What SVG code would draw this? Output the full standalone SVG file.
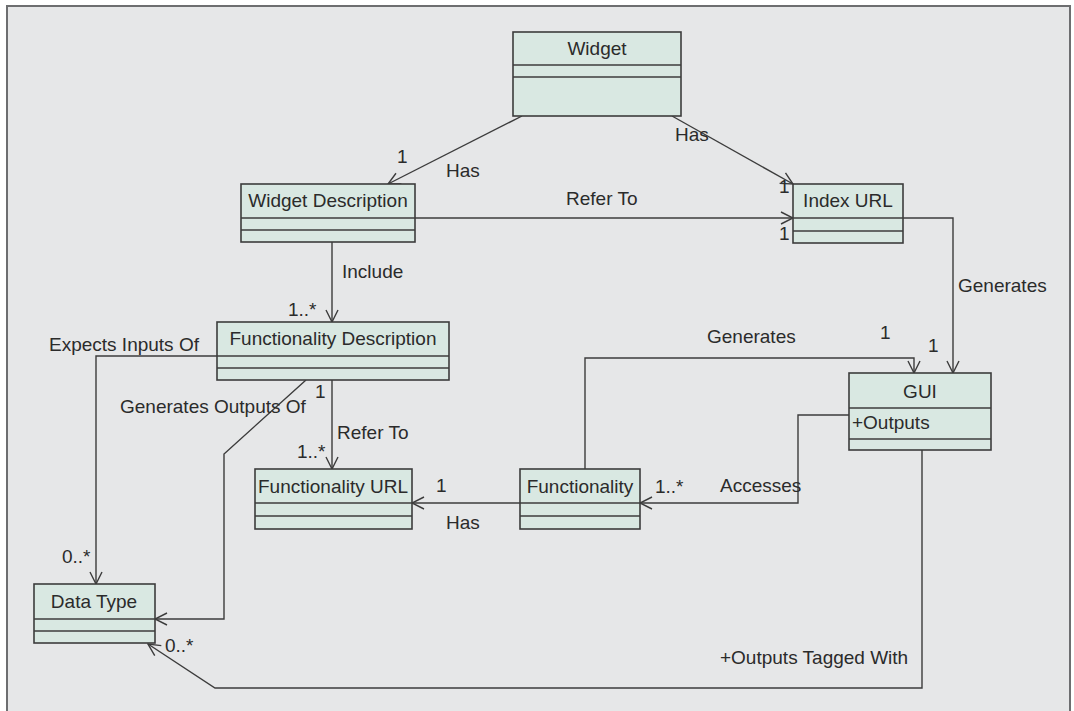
<svg xmlns="http://www.w3.org/2000/svg" width="1074" height="711" viewBox="0 0 1074 711">
<style>
.bg{fill:#e6e7e8;stroke:none}
.frame{fill:none;stroke:#6d6e70;stroke-width:2}
.box{fill:#d9e8e2;stroke:#3c3c3c;stroke-width:1.6}
.sep{stroke:#3c3c3c;stroke-width:1.6}
.ln{fill:none;stroke:#3c3c3c;stroke-width:1.4}
text{font-family:"Liberation Sans",Arial,sans-serif;font-size:19px;fill:#2b2b2b}
.c{text-anchor:middle}
</style>
<defs>
<marker id="arr" viewBox="0 0 14 14" refX="13" refY="7" markerWidth="14" markerHeight="14" markerUnits="userSpaceOnUse" orient="auto">
<path d="M1,1 L13,7 L1,13" fill="none" stroke="#3c3c3c" stroke-width="1.4"/>
</marker>
</defs>
<rect class="bg" x="7" y="6" width="1063" height="710"/>
<path class="frame" d="M7,711 V6 H1070 V711"/>

<g id="connectors">
<line class="ln" x1="522" y1="116" x2="388" y2="184" marker-end="url(#arr)"/>
<line class="ln" x1="672" y1="116" x2="793" y2="184" marker-end="url(#arr)"/>
<line class="ln" x1="415" y1="218" x2="793" y2="218" marker-end="url(#arr)"/>
<polyline class="ln" points="903,218 953,218 953,373" marker-end="url(#arr)"/>
<line class="ln" x1="332" y1="242" x2="332" y2="322" marker-end="url(#arr)"/>
<polyline class="ln" points="217,356 96,356 96,584" marker-end="url(#arr)"/>
<polyline class="ln" points="306,380 224,454 224,619 155,619" marker-end="url(#arr)"/>
<line class="ln" x1="332" y1="380" x2="332" y2="469" marker-end="url(#arr)"/>
<line class="ln" x1="520" y1="503" x2="412" y2="503" marker-end="url(#arr)"/>
<polyline class="ln" points="585,469 585,358 914,358 914,373" marker-end="url(#arr)"/>
<polyline class="ln" points="849,415 798,415 798,503 640,503" marker-end="url(#arr)"/>
<polyline class="ln" points="922,450 922,688 215,688 148,644" marker-end="url(#arr)"/>
</g>

<g id="labels">
<text x="397" y="163">1</text>
<text x="446" y="177">Has</text>
<text x="675" y="141">Has</text>
<text x="566" y="205">Refer To</text>
<text x="779" y="193">1</text>
<text x="779" y="240">1</text>
<text x="342" y="278">Include</text>
<text x="288" y="316">1..*</text>
<text x="958" y="292">Generates</text>
<text x="49" y="351">Expects Inputs Of</text>
<text x="120" y="413">Generates Outputs Of</text>
<text x="315" y="398">1</text>
<text x="337" y="439">Refer To</text>
<text x="297" y="458">1..*</text>
<text x="436" y="492">1</text>
<text x="446" y="529">Has</text>
<text x="707" y="343">Generates</text>
<text x="880" y="339">1</text>
<text x="928" y="352">1</text>
<text x="655" y="493">1..*</text>
<text x="720" y="492">Accesses</text>
<text x="62" y="563">0..*</text>
<text x="165" y="652">0..*</text>
<text x="720" y="664">+Outputs Tagged With</text>
</g>

<g id="widget">
<rect class="box" x="513" y="32" width="168" height="84"/>
<line class="sep" x1="513" y1="65" x2="681" y2="65"/>
<line class="sep" x1="513" y1="77" x2="681" y2="77"/>
<text class="c" x="597" y="55">Widget</text>
</g>

<g id="widget-description">
<rect class="box" x="241" y="184" width="174" height="58"/>
<line class="sep" x1="241" y1="218" x2="415" y2="218"/>
<line class="sep" x1="241" y1="230" x2="415" y2="230"/>
<text class="c" x="328" y="207">Widget Description</text>
</g>

<g id="index-url">
<rect class="box" x="793" y="184" width="110" height="59"/>
<line class="sep" x1="793" y1="218" x2="903" y2="218"/>
<line class="sep" x1="793" y1="231" x2="903" y2="231"/>
<text class="c" x="848" y="207">Index URL</text>
</g>

<g id="functionality-description">
<rect class="box" x="217" y="322" width="232" height="58"/>
<line class="sep" x1="217" y1="356" x2="449" y2="356"/>
<line class="sep" x1="217" y1="368" x2="449" y2="368"/>
<text class="c" x="333" y="345">Functionality Description</text>
</g>

<g id="gui">
<rect class="box" x="849" y="373" width="142" height="77"/>
<line class="sep" x1="849" y1="408" x2="991" y2="408"/>
<line class="sep" x1="849" y1="439" x2="991" y2="439"/>
<text class="c" x="920" y="398">GUI</text>
<text x="852" y="429">+Outputs</text>
</g>

<g id="functionality-url">
<rect class="box" x="255" y="469" width="157" height="60"/>
<line class="sep" x1="255" y1="503" x2="412" y2="503"/>
<line class="sep" x1="255" y1="516" x2="412" y2="516"/>
<text class="c" x="333" y="493">Functionality URL</text>
</g>

<g id="functionality">
<rect class="box" x="520" y="469" width="120" height="60"/>
<line class="sep" x1="520" y1="503" x2="640" y2="503"/>
<line class="sep" x1="520" y1="516" x2="640" y2="516"/>
<text class="c" x="580" y="493">Functionality</text>
</g>

<g id="data-type">
<rect class="box" x="34" y="584" width="121" height="59"/>
<line class="sep" x1="34" y1="619" x2="155" y2="619"/>
<line class="sep" x1="34" y1="631" x2="155" y2="631"/>
<text class="c" x="94" y="608">Data Type</text>
</g>
</svg>
